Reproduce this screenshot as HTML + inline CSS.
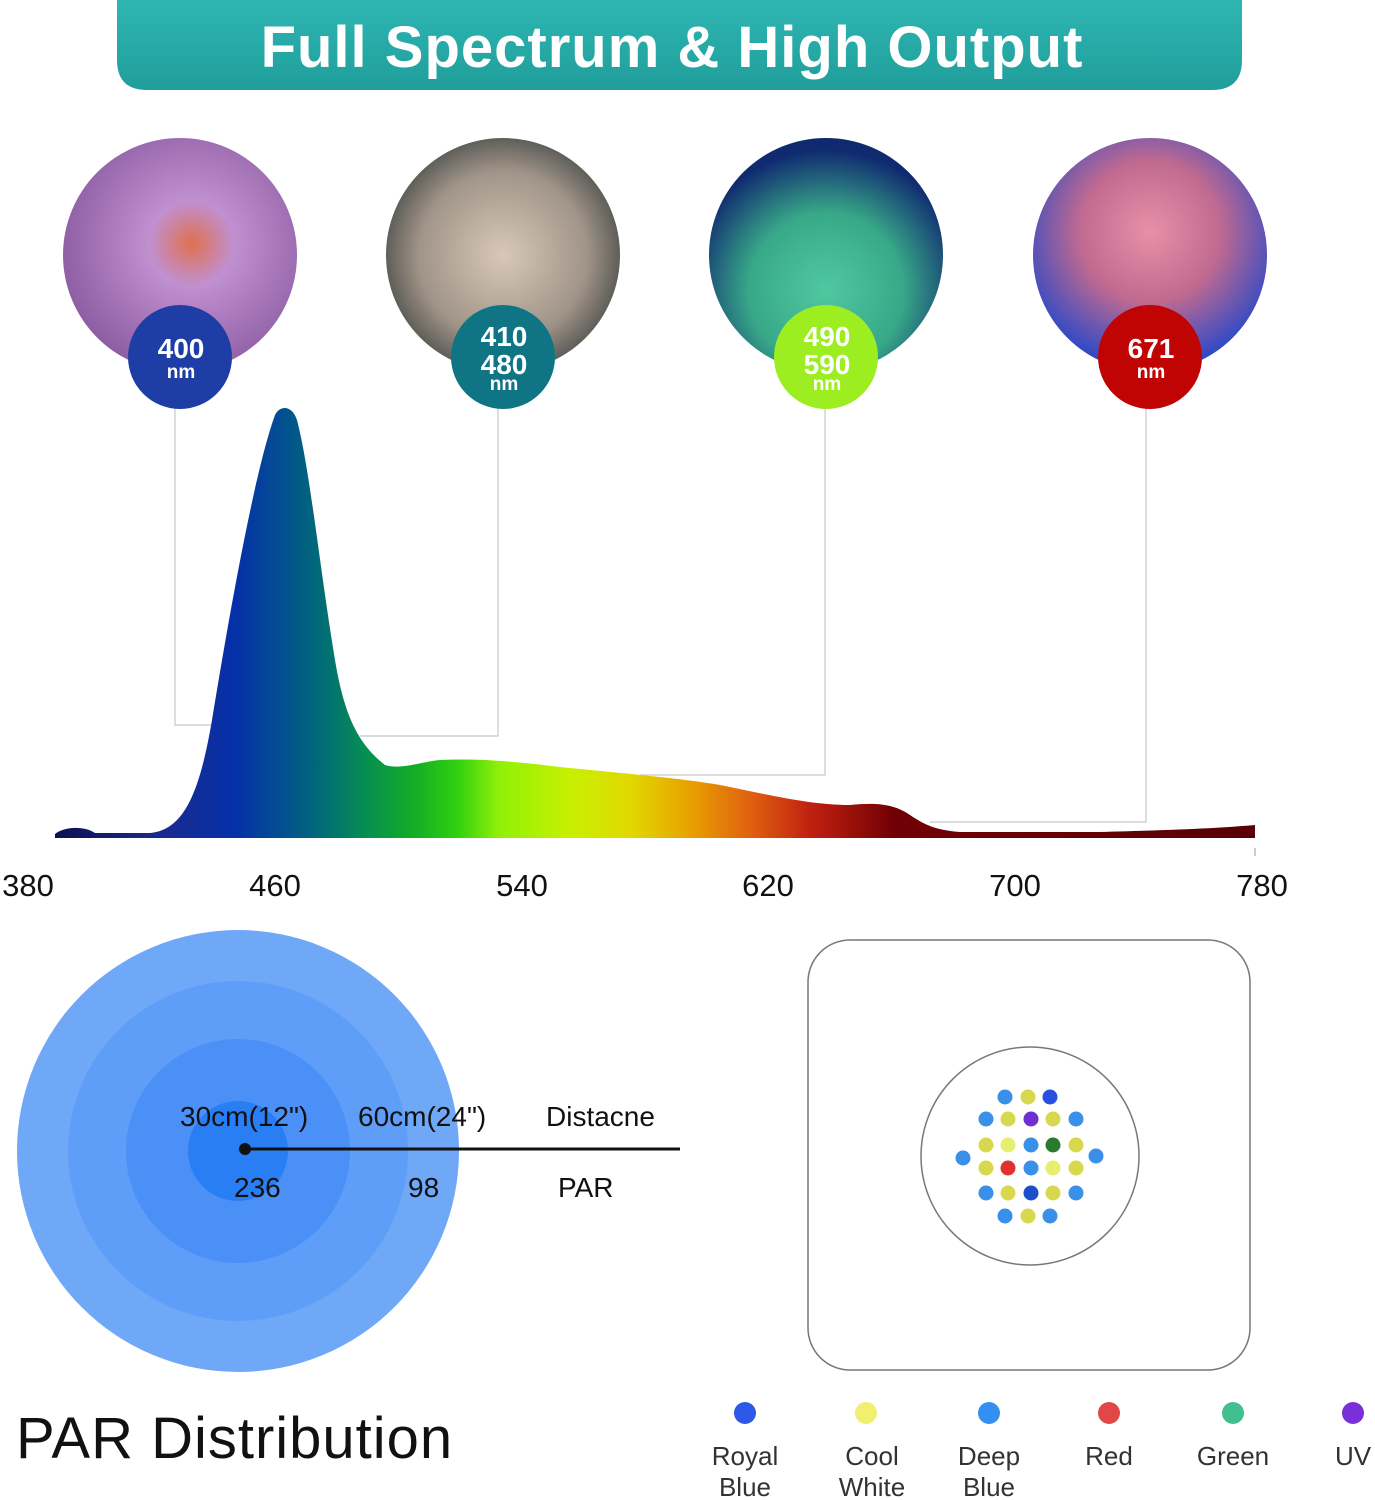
<!DOCTYPE html>
<html><head><meta charset="utf-8"><style>
html,body{margin:0;padding:0;background:#fff;}
body{width:1375px;height:1500px;position:relative;overflow:hidden;font-family:"Liberation Sans",Arial,sans-serif;}
</style></head><body>
<svg width="1375" height="1500" viewBox="0 0 1375 1500" xmlns="http://www.w3.org/2000/svg" style="position:absolute;left:0;top:0">
<defs>
<linearGradient id="ban" x1="0" y1="0" x2="0" y2="1"><stop offset="0" stop-color="#2fb6b3"/><stop offset="1" stop-color="#1f9e9b"/></linearGradient>
<linearGradient id="spec" gradientUnits="userSpaceOnUse" x1="55" y1="0" x2="1255" y2="0">
<stop offset="0" stop-color="#101050"/>
<stop offset="0.09" stop-color="#1a2a90"/>
<stop offset="0.15" stop-color="#0530a8"/>
<stop offset="0.19" stop-color="#035090"/>
<stop offset="0.22" stop-color="#006a78"/>
<stop offset="0.26" stop-color="#069050"/>
<stop offset="0.30" stop-color="#15ad25"/>
<stop offset="0.335" stop-color="#30d010"/>
<stop offset="0.37" stop-color="#90f008"/>
<stop offset="0.43" stop-color="#c8f000"/>
<stop offset="0.48" stop-color="#e0d800"/>
<stop offset="0.53" stop-color="#e8a000"/>
<stop offset="0.58" stop-color="#e06010"/>
<stop offset="0.63" stop-color="#c02010"/>
<stop offset="0.70" stop-color="#700005"/>
<stop offset="1" stop-color="#580005"/>
</linearGradient>
<radialGradient id="p1" cx="0.55" cy="0.45" r="0.6"><stop offset="0" stop-color="#e07050"/><stop offset="0.3" stop-color="#c090d0"/><stop offset="1" stop-color="#8a5aa0"/></radialGradient>
<radialGradient id="p2" cx="0.5" cy="0.5" r="0.6"><stop offset="0" stop-color="#d8c8b8"/><stop offset="0.6" stop-color="#a09488"/><stop offset="1" stop-color="#303838"/></radialGradient>
<radialGradient id="p3" cx="0.5" cy="0.65" r="0.6"><stop offset="0" stop-color="#50c8a0"/><stop offset="0.55" stop-color="#38a888"/><stop offset="1" stop-color="#102a70"/></radialGradient>
<radialGradient id="p4" cx="0.5" cy="0.4" r="0.6"><stop offset="0" stop-color="#e890a8"/><stop offset="0.5" stop-color="#c06a90"/><stop offset="1" stop-color="#2848c8"/></radialGradient>
</defs>
<path d="M117 0 H1242 V60 Q1242 90 1212 90 H147 Q117 90 117 60 Z" fill="url(#ban)"/>
<text x="672" y="67" text-anchor="middle" font-size="58" font-weight="bold" fill="#fff" letter-spacing="1">Full Spectrum &amp; High Output</text>

<g fill="none" stroke="#c8c8c8" stroke-width="1.2">
<polyline points="175,400 175,725 212,725"/>
<polyline points="498,400 498,736 360,736"/>
<polyline points="825,400 825,775 640,775"/>
<polyline points="1146,400 1146,822 930,822"/>
</g>

<circle cx="180" cy="255" r="117" fill="url(#p1)"/>
<circle cx="503" cy="255" r="117" fill="url(#p2)"/>
<circle cx="826" cy="255" r="117" fill="url(#p3)"/>
<circle cx="1150" cy="255" r="117" fill="url(#p4)"/>

<circle cx="180" cy="357" r="52" fill="#1e3ea6"/>
<circle cx="503" cy="357" r="52" fill="#0f7585"/>
<circle cx="826" cy="357" r="52" fill="#9cee20"/>
<circle cx="1150" cy="357" r="52" fill="#c00404"/>
<g fill="#fff" font-weight="bold" text-anchor="middle">
<text x="181" y="358" font-size="28">400</text><text x="181" y="378" font-size="19">nm</text>
<text x="504" y="346" font-size="28">410</text><text x="504" y="374" font-size="28">480</text><text x="504" y="390" font-size="19">nm</text>
<text x="827" y="346" font-size="28">490</text><text x="827" y="374" font-size="28">590</text><text x="827" y="390" font-size="19">nm</text>
<text x="1151" y="358" font-size="28">671</text><text x="1151" y="378" font-size="19">nm</text>
</g>

<path fill="url(#spec)" d="M55,834 C65,826 85,826 95,833 L150,833 C185,830 200,790 212,720 C230,610 255,470 275,415 C280,405 292,405 297,420 C310,470 320,570 335,660 C345,720 360,745 385,765 C400,770 420,762 440,760 C480,758 520,762 560,767 C620,773 680,778 720,785 C770,795 810,805 850,805 C880,802 895,805 910,815 C925,825 935,830 960,832 L1100,832 C1180,830 1220,828 1255,825 L1255,838 L55,838 Z"/>
<line x1="1255" y1="848" x2="1255" y2="856" stroke="#999" stroke-width="1"/>
<g font-size="31" fill="#111" text-anchor="middle">
<text x="28" y="896">380</text><text x="275" y="896">460</text><text x="522" y="896">540</text><text x="768" y="896">620</text><text x="1015" y="896">700</text><text x="1262" y="896">780</text>
</g>

<circle cx="238" cy="1151" r="221" fill="#70a8f8"/>
<circle cx="238" cy="1151" r="170" fill="#5e9df8"/>
<circle cx="238" cy="1151" r="112" fill="#4b90f6"/>
<circle cx="238" cy="1151" r="50" fill="#2a7ef4"/>
<line x1="245" y1="1149" x2="680" y2="1149" stroke="#111" stroke-width="3"/>
<circle cx="245" cy="1149" r="6" fill="#111"/>
<g font-size="28" fill="#111">
<text x="180" y="1126">30cm(12")</text><text x="358" y="1126">60cm(24")</text><text x="546" y="1126">Distacne</text>
<text x="234" y="1197">236</text><text x="408" y="1197">98</text><text x="558" y="1197">PAR</text>
</g>
<text x="16" y="1458" font-size="58" fill="#111" letter-spacing="1">PAR Distribution</text>

<rect x="808" y="940" width="442" height="430" rx="42" fill="none" stroke="#777" stroke-width="1.5"/>
<circle cx="1030" cy="1156" r="109" fill="none" stroke="#777" stroke-width="1.5"/>
<g>
<circle cx="1005" cy="1097" r="7.5" fill="#3a8fe8"/><circle cx="1028" cy="1097" r="7.5" fill="#d8d84e"/><circle cx="1050" cy="1097" r="7.5" fill="#2850e0"/>
<circle cx="986" cy="1119" r="7.5" fill="#3a8fe8"/><circle cx="1008" cy="1119" r="7.5" fill="#d8d84e"/><circle cx="1031" cy="1119" r="7.5" fill="#7030d0"/><circle cx="1053" cy="1119" r="7.5" fill="#d8d84e"/><circle cx="1076" cy="1119" r="7.5" fill="#3a8fe8"/>
<circle cx="986" cy="1145" r="7.5" fill="#d8d84e"/><circle cx="1008" cy="1145" r="7.5" fill="#e6ee70"/><circle cx="1031" cy="1145" r="7.5" fill="#3a8fe8"/><circle cx="1053" cy="1145" r="7.5" fill="#2a7a30"/><circle cx="1076" cy="1145" r="7.5" fill="#d8d84e"/>
<circle cx="963" cy="1158" r="7.5" fill="#3a8fe8"/><circle cx="1096" cy="1156" r="7.5" fill="#3a8fe8"/>
<circle cx="986" cy="1168" r="7.5" fill="#d8d84e"/><circle cx="1008" cy="1168" r="7.5" fill="#e03030"/><circle cx="1031" cy="1168" r="7.5" fill="#3a8fe8"/><circle cx="1053" cy="1168" r="7.5" fill="#e6ee70"/><circle cx="1076" cy="1168" r="7.5" fill="#d8d84e"/>
<circle cx="986" cy="1193" r="7.5" fill="#3a8fe8"/><circle cx="1008" cy="1193" r="7.5" fill="#d8d84e"/><circle cx="1031" cy="1193" r="7.5" fill="#1c50c8"/><circle cx="1053" cy="1193" r="7.5" fill="#d8d84e"/><circle cx="1076" cy="1193" r="7.5" fill="#3a8fe8"/>
<circle cx="1005" cy="1216" r="7.5" fill="#3a8fe8"/><circle cx="1028" cy="1216" r="7.5" fill="#d8d84e"/><circle cx="1050" cy="1216" r="7.5" fill="#3a8fe8"/>
</g>

<circle cx="745" cy="1413" r="11" fill="#2d58e8"/>
<circle cx="866" cy="1413" r="11" fill="#f0f070"/>
<circle cx="989" cy="1413" r="11" fill="#3490f0"/>
<circle cx="1109" cy="1413" r="11" fill="#e04848"/>
<circle cx="1233" cy="1413" r="11" fill="#40c090"/>
<circle cx="1353" cy="1413" r="11" fill="#7a30d8"/>
<g font-size="26" fill="#333" text-anchor="middle">
<text x="745" y="1465">Royal</text><text x="745" y="1496">Blue</text>
<text x="872" y="1465">Cool</text><text x="872" y="1496">White</text>
<text x="989" y="1465">Deep</text><text x="989" y="1496">Blue</text>
<text x="1109" y="1465">Red</text>
<text x="1233" y="1465">Green</text>
<text x="1353" y="1465">UV</text>
</g>
</svg>
</body></html>
